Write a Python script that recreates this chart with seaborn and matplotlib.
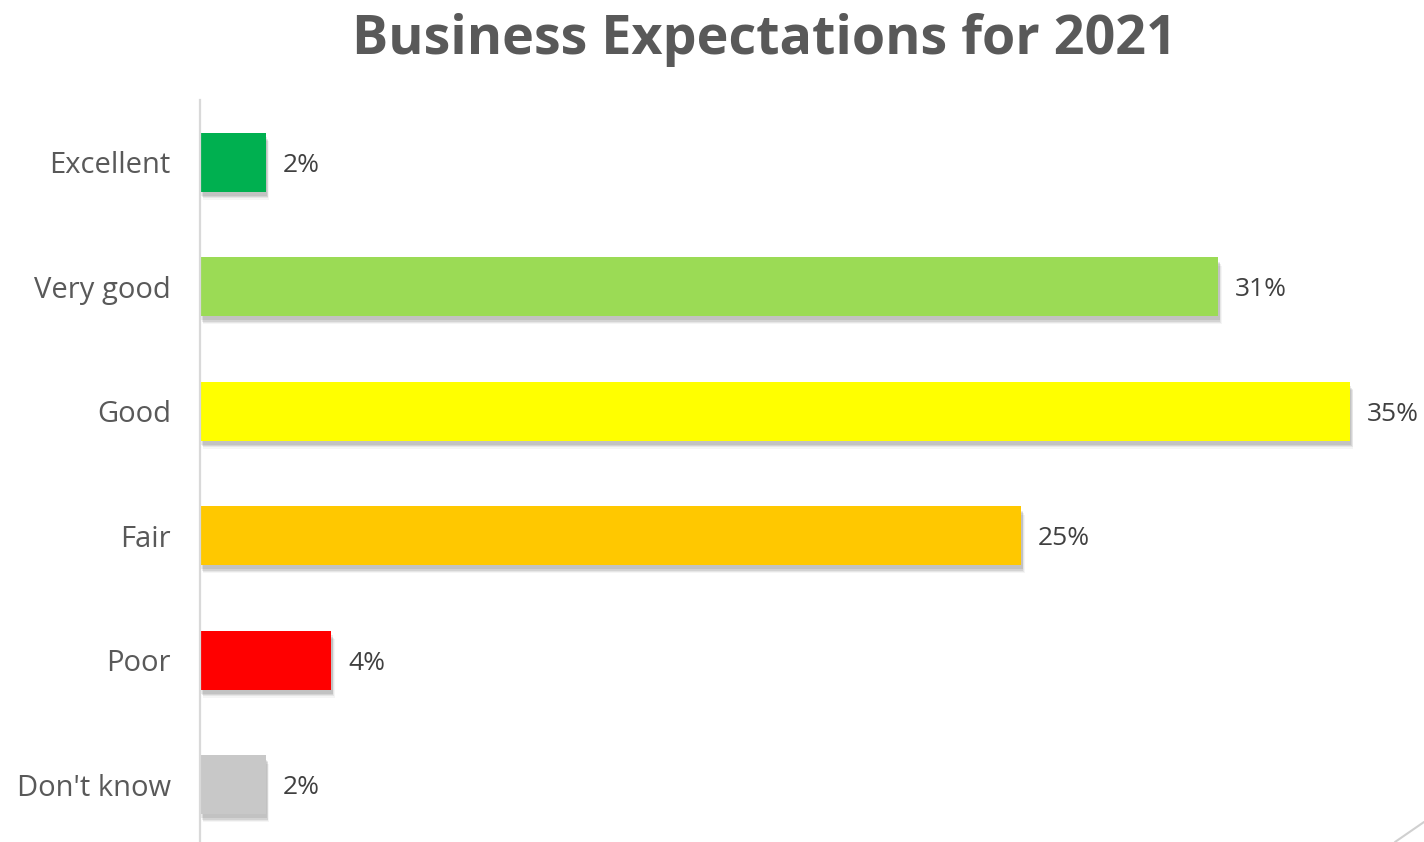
import matplotlib
matplotlib.use("Agg")
import matplotlib.pyplot as plt
import matplotlib.patheffects as pe
from matplotlib.lines import Line2D
import seaborn as sns
import pandas as pd

categories = ["Excellent", "Very good", "Good", "Fair", "Poor", "Don't know"]
shares = [2, 31, 35, 25, 4, 2]
bar_colors = ["#00B050", "#9BDB55", "#FFFF00", "#FFC800", "#FF0000", "#C8C8C8"]
title = "Business Expectations for 2021"

sns.set_theme(style="white")
plt.rcParams["font.family"] = ["Open Sans", "DejaVu Sans"]

df = pd.DataFrame({"category": categories, "share": shares})

fig = plt.figure(figsize=(14.24, 8.42), dpi=100)
ax = fig.add_axes([200 / 1424, -5 / 842, 1 - 200 / 1424, 747 / 842])

sns.barplot(data=df, x="share", y="category", hue="category",
            palette=dict(zip(categories, bar_colors)), order=categories,
            width=0.47, legend=False, ax=ax, saturation=1)

# soft drop shadow under each bar
shadow = [
    pe.SimplePatchShadow(offset=(2.5, -6), shadow_rgbFace="#000000", alpha=0.04),
    pe.SimplePatchShadow(offset=(2, -5), shadow_rgbFace="#000000", alpha=0.06),
    pe.SimplePatchShadow(offset=(1.5, -4), shadow_rgbFace="#000000", alpha=0.08),
    pe.SimplePatchShadow(offset=(1, -3), shadow_rgbFace="#000000", alpha=0.08),
    pe.Normal(),
]
for p in ax.patches:
    p.set_path_effects(shadow)
    p.set_edgecolor("none")

# value labels, nudged a little downward to sit on the bar centre
for c in ax.containers:
    texts = ax.bar_label(c, labels=[f"{v:g}%" for v in c.datavalues], padding=12,
                         fontsize=19, color="#404040")
    for t in texts:
        dx, dy = t.xyann
        t.xyann = (dx, dy - 2.2)

ax.set_xlim(0, 1224 / 32.85)
ax.set_ylim(5.5, -0.5)
ax.set_xlabel("")
ax.set_ylabel("")
ax.set_xticks([])
ax.tick_params(axis="y", length=0, pad=21, labelsize=21, labelcolor="#595959")
for side in ["top", "right", "bottom"]:
    ax.spines[side].set_visible(False)
ax.spines["left"].set_color("#D9D9D9")
ax.spines["left"].set_linewidth(1.6)

fig.text(0.5365, 0.953, title, ha="center", va="center", fontsize=38.8,
         fontweight="bold", color="#595959")

# thin decorative stroke in the lower right corner
fig.add_artist(Line2D([1395 / 1424, 1.0], [0.0, 20 / 842], color="#D0D0D0",
                      linewidth=1.5, transform=fig.transFigure))

fig.savefig("out.png", dpi=100)
